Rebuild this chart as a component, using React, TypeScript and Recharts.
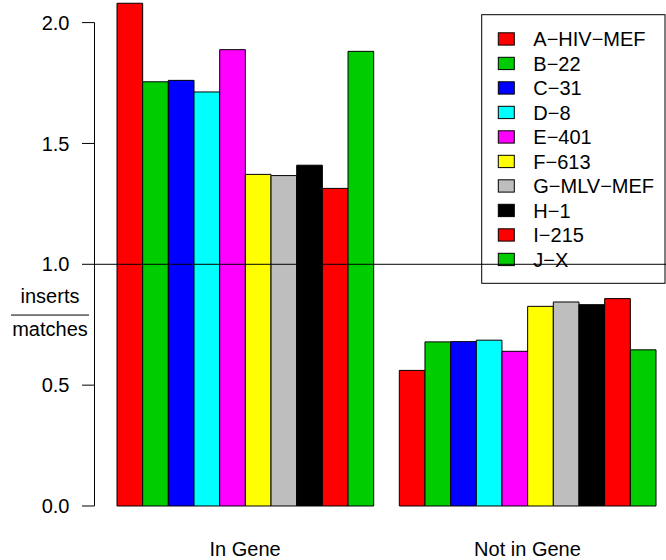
import { BarChart, Bar, XAxis, YAxis, ReferenceLine, Label } from 'recharts';

const categories = ['In Gene', 'Not in Gene'];
const seriesNames = [
    'A\u2212HIV\u2212MEF',
    'B\u221222',
    'C\u221231',
    'D\u22128',
    'E\u2212401',
    'F\u2212613',
    'G\u2212MLV\u2212MEF',
    'H\u22121',
    'I\u2212215',
    'J\u2212X',
];
const seriesColors = [
    '#FF0000',
    '#00CD00',
    '#0000FF',
    '#00FFFF',
    '#FF00FF',
    '#FFFF00',
    '#BEBEBE',
    '#000000',
    '#FF0000',
    '#00CD00',
];
const inGene = [2.08, 1.755, 1.761, 1.713, 1.888, 1.372, 1.367, 1.41, 1.314, 1.881];
const notInGene = [0.561, 0.679, 0.68, 0.686, 0.64, 0.826, 0.844, 0.833, 0.858, 0.646];
const yTicks = [0, 0.5, 1, 1.5, 2];

// R-style axis expansion: 4% each side of [0, max]
const yMax = Math.max(...inGene, ...notInGene);
const yDomain: [number, number] = [-0.04 * yMax, 1.04 * yMax];

const data = categories.map((name, ci) => {
    const row: Record<string, string | number> = { name };
    seriesNames.forEach((s, si) => {
        row[s] = ci === 0 ? inGene[si] : notInGene[si];
    });
    return row;
});

const FONT = '"Liberation Sans", Arial, sans-serif';

function FracLabel(props: any) {
    const vb = props.viewBox;
    if (!vb) return null;
    const at = 0.79;
    const y = vb.y + ((yDomain[1] - at) / (yDomain[1] - yDomain[0])) * vb.height;
    const cx = vb.x + 50;
    return (
        <g>
            <text x={cx} y={y - 11.7} textAnchor="middle" fontSize={20} fill="#000">
                inserts
            </text>
            <line x1={vb.x + 11} x2={vb.x + 89} y1={y} y2={y} stroke="#000" strokeWidth={1} />
            <text x={cx} y={y + 21} textAnchor="middle" fontSize={20} fill="#000">
                matches
            </text>
        </g>
    );
}

function LegendBox() {
    const left = 481.7;
    const top = 34.7;
    return (
        <g>
            <rect x={left} y={top} width={183.3} height={268.6} fill="#fff" stroke="#000" strokeWidth={1} />
            {seriesNames.map((s, i) => {
                const cy = top + 24.3 + i * 24.5;
                return (
                    <g key={s}>
                        <rect
                            x={left + 16.6}
                            y={cy - 6.2}
                            width={16}
                            height={12.3}
                            fill={seriesColors[i]}
                            stroke="#000"
                            strokeWidth={1}
                        />
                        <text x={left + 51.6} y={cy} dy="0.36em" fontSize={20} fill="#000">
                            {s}
                        </text>
                    </g>
                );
            })}
        </g>
    );
}

export default function App() {
    return (
        <div
            style={{
                position: 'relative',
                width: 666,
                height: 560,
                overflow: 'hidden',
                background: '#fff',
                fontFamily: FONT,
            }}
        >
            <style>{'body{margin:0;overflow:hidden}'}</style>
            <div style={{ position: 'absolute', left: 0, top: -20 }}>
                <BarChart
                    width={690}
                    height={600}
                    data={data}
                    margin={{ top: 3.15, right: 13.5, bottom: 23.9, left: 0 }}
                    barGap={0}
                    barSize={25.67}
                >
                    <XAxis
                        dataKey="name"
                        padding={{ left: 9.5, right: 7.9 }}
                        axisLine={false}
                        tickLine={false}
                        tickSize={6}
                        tickMargin={9.4}
                        height={30}
                        tick={{ fontSize: 20, fill: '#000' }}
                    />
                    <XAxis xAxisId="frame" type="number" domain={[0, 1]} hide />
                    <YAxis
                        width={94.5}
                        domain={yDomain}
                        allowDataOverflow
                        ticks={yTicks}
                        interval={0}
                        axisLine={false}
                        tickLine={{ stroke: '#000' }}
                        tickSize={12.5}
                        tickMargin={12.5}
                        tickFormatter={(v: number) => v.toFixed(1)}
                        tick={{ fontSize: 20, fill: '#000' }}
                    >
                        <Label content={FracLabel} />
                    </YAxis>
                    {seriesNames.map((s, i) => (
                        <Bar
                            key={s}
                            dataKey={s}
                            fill={seriesColors[i]}
                            stroke="#000"
                            strokeWidth={1}
                            isAnimationActive={false}
                        />
                    ))}
                    <LegendBox />
                    <ReferenceLine
                        xAxisId="frame"
                        segment={[
                            { x: 0, y: yTicks[0] },
                            { x: 0, y: yTicks[yTicks.length - 1] },
                        ]}
                        stroke="#000"
                        strokeWidth={1}
                    />
                    <ReferenceLine xAxisId="frame" y={1} stroke="#000" strokeWidth={1} />
                </BarChart>
            </div>
        </div>
    );
}
